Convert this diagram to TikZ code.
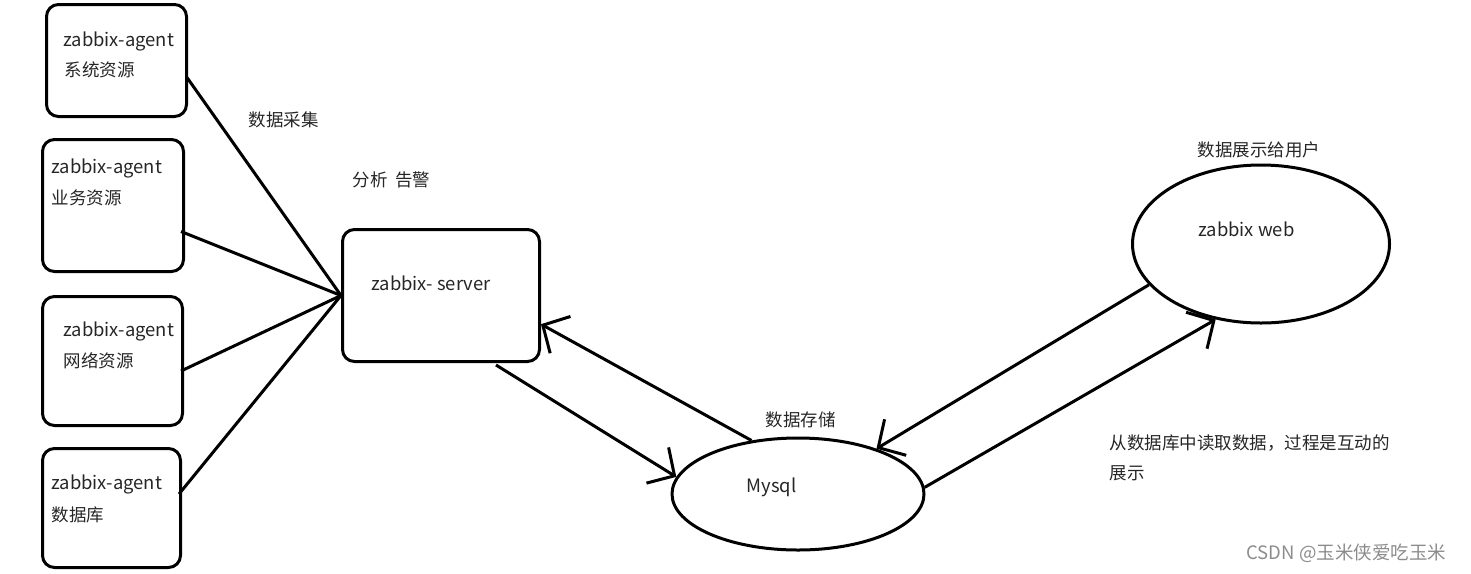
\documentclass[tikz,border=0pt]{standalone}
\usepackage{fontspec}
\setmainfont{Noto Sans CJK SC}
\usetikzlibrary{arrows.meta, positioning, calc, shapes.geometric}
\tikzset{
	every node/.style={font=\fontsize{17.5}{20}\selectfont, text=black!85},
	agentbox/.style={draw, rounded corners=12pt, anchor=north west, inner sep=0pt},
	txt/.style={anchor=west, inner sep=0pt},
	latin/.style={txt, font=\fontsize{18.4}{21}\selectfont},
	store/.style={draw, ellipse, inner sep=0pt},
	hand/.style={-{Straight Barb[length=20pt, width=42pt]}},
}

\begin{document}
\begin{tikzpicture}[x=1pt, y=-1pt, line width=3pt]
	\useasboundingbox (0,0) rectangle (1471,573);
	
	% agents
	\node[agentbox, minimum width=140, minimum height=112] (agentA) at (45,3) {};
	\node[agentbox, minimum width=141, minimum height=132] (agentB) at (41,138) {};
	\node[agentbox, minimum width=140, minimum height=129] (agentC) at (41,295) {};
	\node[agentbox, minimum width=138, minimum height=119] (agentD) at (41,447) {};
	\node[latin] (agentAname) at (62,41) {zabbix-agent};
	\node[txt] (agentAres) at (63,70) {系统资源};
	\node[latin] (agentBname) at (50,168) {zabbix-agent};
	\node[txt] (agentBres) at (50,198) {业务资源};
	\node[latin] (agentCname) at (62,331) {zabbix-agent};
	\node[txt] (agentCres) at (62,361) {网络资源};
	\node[latin] (agentDname) at (50,484) {zabbix-agent};
	\node[txt] (agentDres) at (50,515) {数据库};
	
	% server, db, web
	\node[agentbox, minimum width=197, minimum height=132] (server) at (341,228) {};
	\node[latin] (servername) at (370,283) {zabbix- server};
	\node[store, minimum width=252, minimum height=112] (mysql) at (798,494) {};
	\node[latin] (mysqlname) at (745,487) {Mysql};
	\node[store, minimum width=257, minimum height=158] (web) at (1261,244) {};
	\node[latin] (webname) at (1197,229) {zabbix web};
	
	% labels
	\node[txt] (collect) at (247,120) {数据采集};
	\node[txt] (analyse) at (351,180) {分析\ \ 告警};
	\node[txt] (storage) at (764,420) {数据存储};
	\node[txt] (show) at (1196,150) {数据展示给用户};
	\node[txt] (readA) at (1108,443) {从数据库中读取数据，过程是互动的};
	\node[txt] (readB) at (1108,473) {展示};
	\node[txt, font=\fontsize{18.5}{21}\selectfont, text=black!45] (mark) at (1245,553) {CSDN @玉米侠爱吃玉米};
	
	% data collection
	\draw ($(agentA.east)+(-1,17)$) -- (server.west);
	\draw ($(agentB.east)+(-4,26)$) -- (server.west);
	\draw ($(agentC.east)+(-3,10)$) -- (server.west);
	\draw ($(agentD.east)+(-3,-14)$) -- (server.west);
	
	% storage and display
	\draw[hand] (mysql.131) -- (server.-16);
	\draw[hand] ($(server.south)+(55,2)$) -- (mysql.172);
	\draw[hand] (web.200) -- (mysql.30);
	\draw[hand] (mysql.3) -- (web.239);
	
\end{tikzpicture}
\end{document}
